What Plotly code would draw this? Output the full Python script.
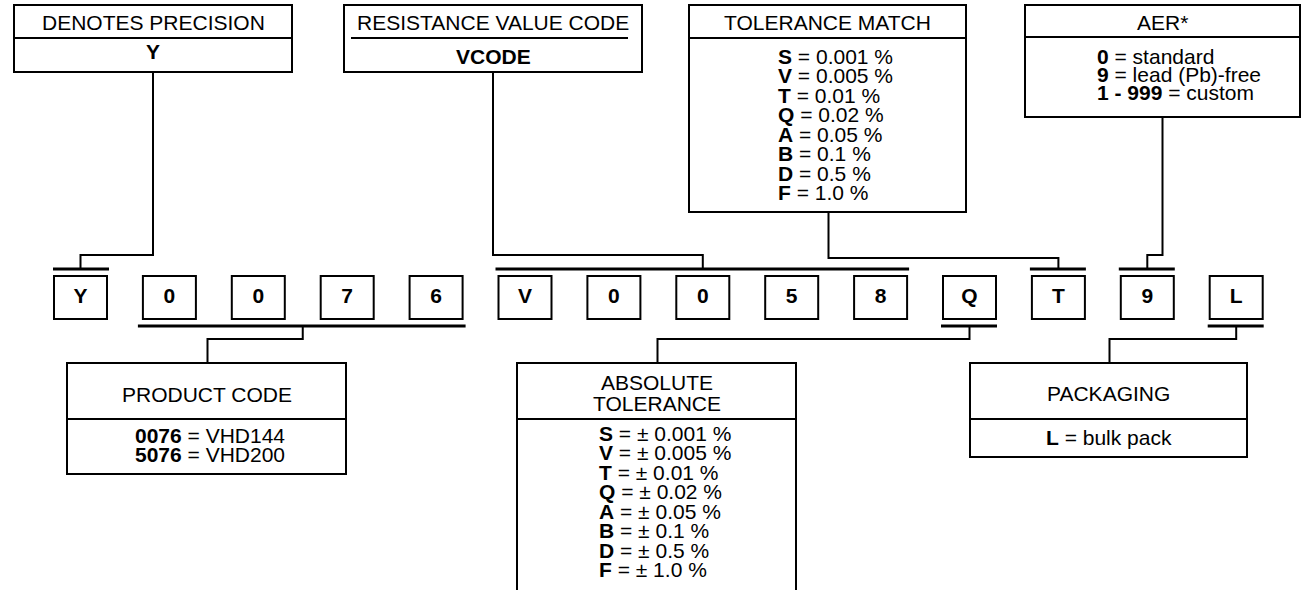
import plotly.graph_objects as go

# ---------------- data ----------------
code_chars = ["Y", "0", "0", "7", "6", "V", "0", "0", "5", "8", "Q", "T", "9", "L"]

precision_title = "DENOTES PRECISION"
precision_code = "Y"

rvc_title = "RESISTANCE VALUE CODE"
rvc_code = "VCODE"

tm_title = "TOLERANCE MATCH"
tol_letters = ["S", "V", "T", "Q", "A", "B", "D", "F"]
tol_values = ["0.001", "0.005", "0.01", "0.02", "0.05", "0.1", "0.5", "1.0"]

aer_title = "AER*"
aer_codes = ["0", "9", "1 - 999"]
aer_meanings = ["standard", "lead (Pb)-free", "custom"]

pc_title = "PRODUCT CODE"
product_codes = ["0076", "5076"]
product_models = ["VHD144", "VHD200"]

at_title = ["ABSOLUTE", "TOLERANCE"]

pk_title = "PACKAGING"
pk_codes = ["L"]
pk_meanings = ["bulk pack"]

# ---------------- layout helpers ----------------
FONT = "Liberation Sans, Arial, Helvetica, sans-serif"
FS = 21
BLACK = "#000000"

BOX_X0, STEP, BOX_W = 54, 88.9, 53
BOX_Y0, BOX_Y1 = 276, 319


def bx0(i):
    return BOX_X0 + i * STEP


def bx1(i):
    return bx0(i) + BOX_W


def bcx(i):
    return bx0(i) + BOX_W / 2


shapes = []
annotations = []


def rect(x0, y0, x1, y1, w=2):
    shapes.append(dict(type="rect", xref="x", yref="y", x0=x0, y0=y0, x1=x1, y1=y1,
                       line=dict(color=BLACK, width=w), fillcolor="rgba(0,0,0,0)"))


def line(x0, y0, x1, y1, w=2):
    shapes.append(dict(type="line", xref="x", yref="y", x0=x0, y0=y0, x1=x1, y1=y1,
                       line=dict(color=BLACK, width=w)))


def path(pts, w=2):
    d = "M " + " L ".join(f"{x},{y}" for x, y in pts)
    shapes.append(dict(type="path", xref="x", yref="y", path=d,
                       line=dict(color=BLACK, width=w)))


def text(x, y, s, anchor="center", size=FS):
    annotations.append(dict(x=x, y=y, xref="x", yref="y", text=s, showarrow=False,
                            xanchor=anchor, yanchor="middle",
                            font=dict(family=FONT, size=size, color=BLACK)))


# code boxes
for i in range(len(code_chars)):
    rect(bx0(i), BOX_Y0, bx1(i), BOX_Y1)

# bars
BAR_TOP, BAR_BOT = 269, 326
line(bx0(0) - 1, BAR_TOP, bx1(0) + 2, BAR_TOP, 3)            # Y
line(bx0(5) - 3, BAR_TOP, bx1(9) + 2, BAR_TOP, 3)            # VCODE
line(bx0(11) - 2, BAR_TOP, bx1(11) + 1, BAR_TOP, 3)          # T
line(bx0(12) - 2, BAR_TOP, bx1(12) + 1, BAR_TOP, 3)          # 9
line(bx0(1) - 5, BAR_BOT, bx1(4) + 3, BAR_BOT, 3)            # product code
line(bx0(10) - 2, BAR_BOT, bx1(10) + 1, BAR_BOT, 3)          # Q
line(bx0(13) - 2, BAR_BOT, bx1(13) + 1, BAR_BOT, 3)          # L

# label boxes: (x0, x1, top, divider, bottom)
B_PREC = (14, 292, 5, 38, 72)
B_RVC = (344, 642, 5, 38, 72)
B_TM = (689, 966, 5, 38, 212)
B_AER = (1025, 1300, 5, 37, 117)
B_PC = (67, 346, 363, 419, 474)
B_AT = (517, 796, 363, 419, 640)
B_PK = (970, 1247, 363, 419, 457)

for b in (B_PREC, B_TM, B_AER, B_PC, B_AT, B_PK):
    rect(b[0], b[2], b[1], b[4])
    line(b[0], b[3], b[1], b[3])
rect(B_RVC[0], B_RVC[2], B_RVC[1], B_RVC[4])
line(B_RVC[0] + 7, B_RVC[3], B_RVC[1] - 14, B_RVC[3])


def cx(b):
    return (b[0] + b[1]) / 2


# connectors
path([(cx(B_PREC), B_PREC[4]), (cx(B_PREC), 255), (bcx(0), 255), (bcx(0), BAR_TOP)])
vc = (bx0(5) + bx1(9)) / 2
path([(cx(B_RVC), B_RVC[4]), (cx(B_RVC), 255), (vc, 255), (vc, BAR_TOP)])
path([(cx(B_TM) + 1, B_TM[4]), (cx(B_TM) + 1, 258), (bcx(11), 258), (bcx(11), BAR_TOP)])
path([(cx(B_AER), B_AER[4]), (cx(B_AER), 255), (bcx(12), 255), (bcx(12), BAR_TOP)])
pcx = (bx0(1) + bx1(4)) / 2
path([(pcx, BAR_BOT), (pcx, 339), (cx(B_PC) + 1, 339), (cx(B_PC) + 1, B_PC[2])])
path([(bcx(10), BAR_BOT), (bcx(10), 339), (cx(B_AT) + 1, 339), (cx(B_AT) + 1, B_AT[2])])
path([(bcx(13), BAR_BOT), (bcx(13), 339), (cx(B_PK) + 1, 339), (cx(B_PK) + 1, B_PK[2])])

# texts in top boxes
text(cx(B_PREC), 22, precision_title)
text(cx(B_PREC), 51, f"<b>{precision_code}</b>")
text(cx(B_RVC), 22, rvc_title)
text(cx(B_RVC), 56, f"<b>{rvc_code}</b>")
text(cx(B_TM), 22, tm_title)
for k, (l, v) in enumerate(zip(tol_letters, tol_values)):
    text(776, 56 + k * 19.5, f"<b>{l}</b> = {v} %", anchor="left")
text(cx(B_AER), 22, aer_title)
for k, (c, m) in enumerate(zip(aer_codes, aer_meanings)):
    text(1095, 56 + k * 18, f"<b>{c}</b> = {m}", anchor="left")

# bottom boxes
text(cx(B_PC), 394, pc_title)
for k, (c, m) in enumerate(zip(product_codes, product_models)):
    text(133, 435 + k * 19, f"<b>{c}</b> = {m}", anchor="left")
text(cx(B_AT), 382, at_title[0])
text(cx(B_AT), 403, at_title[1])
for k, (l, v) in enumerate(zip(tol_letters, tol_values)):
    text(597, 433 + k * 19.5, f"<b>{l}</b> = ± {v} %", anchor="left")
text(cx(B_PK), 393, pk_title)
for k, (c, m) in enumerate(zip(pk_codes, pk_meanings)):
    text(cx(B_PK), 437 + k * 19, f"<b>{c}</b> = {m}")

fig = go.Figure()
fig.add_trace(go.Scatter(
    x=[bcx(i) for i in range(len(code_chars))],
    y=[298] * len(code_chars),
    text=[f"<b>{c}</b>" for c in code_chars],
    mode="text",
    textposition="middle center",
    textfont=dict(family=FONT, size=21, color=BLACK),
    hoverinfo="skip",
    showlegend=False,
))

fig.update_layout(
    width=1302, height=590,
    margin=dict(l=0, r=0, t=0, b=0),
    paper_bgcolor="white", plot_bgcolor="white",
    xaxis=dict(range=[0, 1302], visible=False, fixedrange=True),
    yaxis=dict(range=[590, 0], visible=False, fixedrange=True),
    shapes=shapes,
    annotations=annotations,
    showlegend=False,
)

fig.write_html("out.html",
               config={"displayModeBar": False, "staticPlot": True},
               post_script="document.body.style.margin='0';document.documentElement.style.overflow='hidden';")
